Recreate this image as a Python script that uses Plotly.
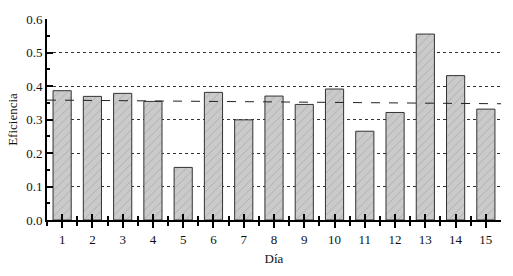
import plotly.graph_objects as go

dias = list(range(1, 16))
eficiencia = [0.386, 0.369, 0.378, 0.354, 0.157, 0.381, 0.299, 0.370,
              0.345, 0.391, 0.265, 0.321, 0.555, 0.431, 0.331]
tendencia_x = [0.5, 15.5]
tendencia_y = [0.358, 0.347]
y_ticks = [0.0, 0.1, 0.2, 0.3, 0.4, 0.5, 0.6]

font_fam = "Liberation Serif"

fig = go.Figure()
fig.add_trace(go.Bar(
    x=dias, y=eficiencia, width=0.6,
    marker=dict(color="#c8c8c8", line=dict(color="#333333", width=1),
                pattern=dict(shape="/", fgcolor="#808080", bgcolor="#cacaca",
                             size=6, solidity=0.12)),
    showlegend=False,
))
fig.add_trace(go.Scatter(
    x=tendencia_x, y=tendencia_y, mode="lines",
    line=dict(color="#222222", width=1, dash="dash"), showlegend=False,
))
fig.add_trace(go.Scatter(x=[dias[0]], y=[eficiencia[0]], xaxis="x2", yaxis="y",
                         mode="markers", marker=dict(opacity=0), showlegend=False,
                         hoverinfo="skip"))

fig.update_layout(
    width=513, height=276,
    margin=dict(l=47, r=12, t=19, b=56),
    plot_bgcolor="white", paper_bgcolor="white",
    font=dict(family=font_fam, size=13, color="#111111"),
    xaxis=dict(
        range=[0.5, 15.5], tickmode="array", tickvals=dias,
        ticktext=[str(d) for d in dias],
        showline=True, linecolor="black", linewidth=2,
        ticks="outside", ticklen=6, tickwidth=2, tickcolor="black",
        minor=dict(tickmode="array", tickvals=[d + 0.5 for d in dias[:-1]] + [0.5],
                   ticks="outside", ticklen=4, tickwidth=2, tickcolor="black"),
        showgrid=False, zeroline=False,
        title=dict(text="Día", font=dict(size=13), standoff=8),
        tickfont=dict(size=13),
    ),
    xaxis2=dict(
        range=[0.5, 15.5], overlaying="x", side="bottom", anchor="y",
        tickmode="array", tickvals=dias, showticklabels=False,
        ticks="inside", ticklen=6, tickwidth=2, tickcolor="black",
        minor=dict(tickmode="array", tickvals=[d + 0.5 for d in dias[:-1]],
                   ticks="inside", ticklen=4, tickwidth=2, tickcolor="black"),
        showgrid=False, zeroline=False, showline=False,
    ),
    yaxis=dict(
        range=[0, 0.6], tickmode="array", tickvals=y_ticks,
        ticktext=[f"{v:.1f}" for v in y_ticks],
        showline=True, linecolor="black", linewidth=2,
        ticks="inside", ticklen=6, tickwidth=2, tickcolor="black",
        minor=dict(tickmode="array", tickvals=[0.05, 0.15, 0.25, 0.35, 0.45, 0.55],
                   ticks="inside", ticklen=3, tickwidth=2, tickcolor="black"),
        showgrid=True, gridcolor="#333333", griddash="dot", gridwidth=1,
        zeroline=False,
        title=dict(text="Eficiencia", font=dict(size=13), standoff=6),
        tickfont=dict(size=13),
    ),
)

fig.write_html("out.html", config={"displayModeBar": False},
               post_script="document.body.style.margin='0';document.body.style.overflow='hidden';")
